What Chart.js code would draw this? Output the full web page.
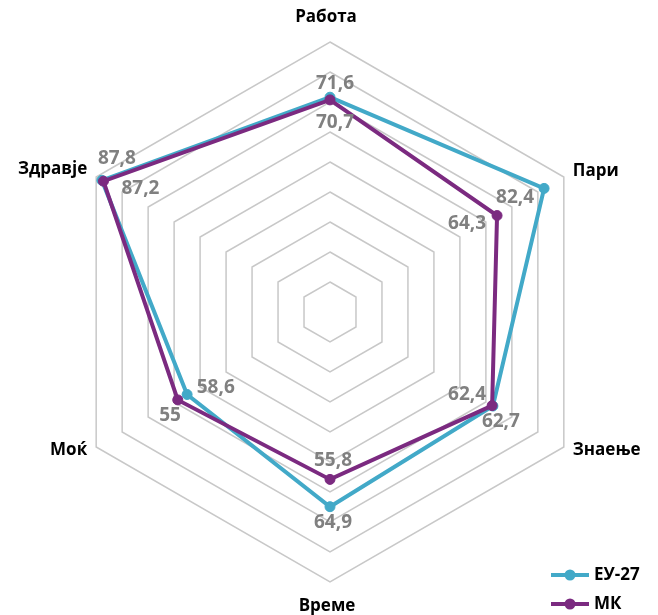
<!DOCTYPE html>
<html>
<head>
<meta charset="utf-8">
<script src="https://cdn.jsdelivr.net/npm/chart.js@4/dist/chart.umd.min.js"></script>
<style>
  html, body { margin: 0; padding: 0; background: #fff; }
  #wrap { width: 658px; height: 615px; }
</style>
</head>
<body>
<div id="wrap"><canvas id="c" width="658" height="615"></canvas></div>
<script>
const categories = ['Работа', 'Пари', 'Знаење', 'Време', 'Моќ', 'Здравје'];
const seriesNames = ['ЕУ-27', 'МК'];
const euValues = [71.6, 82.4, 62.7, 64.9, 55, 87.8];
const mkValues = [70.7, 64.3, 62.4, 55.8, 58.6, 87.2];
const scaleMin = 0;
const scaleMax = 90;
const scaleStep = 10;

const COLORS = ['#42a9c8', '#7b2a80'];
const FONT = '"Open Sans", "Noto Sans", sans-serif';

// label placement (pixel offsets relative to each point), kept apart from data
const valueLabelOffsets = [
  [[5, -14], [-29, 9], [8, 16], [3, 16], [-17, 21], [15, -22]],
  [[5, 23], [-30, 8], [-25, -11], [3, -19], [38, -12], [37, 7]]
];
const pointLabelPlace = [
  { dx: -4, dy: -25, align: 'center' },
  { dx: 9, dy: -6, align: 'left' },
  { dx: 9, dy: 3, align: 'left' },
  { dx: -3, dy: 24, align: 'center' },
  { dx: -9, dy: 3, align: 'right' },
  { dx: -9, dy: -8, align: 'right' }
];

const fmt = v => String(v).replace('.', ',');

const pointLabelsPlugin = {
  id: 'customPointLabels',
  afterDraw(chart) {
    const scale = chart.scales.r;
    const ctx = chart.ctx;
    ctx.save();
    ctx.font = 'bold 17px ' + FONT;
    ctx.fillStyle = '#000';
    ctx.textBaseline = 'middle';
    const outer = scale.getDistanceFromCenterForValue(scaleMax);
    categories.forEach((lab, i) => {
      const p = scale.getPointPosition(i, outer);
      const pl = pointLabelPlace[i];
      ctx.textAlign = pl.align;
      ctx.fillText(lab, p.x + pl.dx, p.y + pl.dy);
    });
    ctx.restore();
  }
};

const valueLabelsPlugin = {
  id: 'valueLabels',
  afterDatasetsDraw(chart) {
    const ctx = chart.ctx;
    ctx.save();
    ctx.font = 'bold 19px ' + FONT;
    ctx.fillStyle = '#808080';
    ctx.textAlign = 'center';
    ctx.textBaseline = 'middle';
    chart.data.datasets.forEach((ds, di) => {
      const meta = chart.getDatasetMeta(di);
      meta.data.forEach((pt, i) => {
        const off = valueLabelOffsets[di][i];
        ctx.fillText(fmt(ds.data[i]), pt.x + off[0], pt.y + off[1]);
      });
    });
    ctx.restore();
  }
};

const legendPlugin = {
  id: 'customLegend',
  afterDraw(chart) {
    const ctx = chart.ctx;
    ctx.save();
    const ys = [575, 604];
    chart.data.datasets.forEach((ds, di) => {
      const y = ys[di];
      ctx.strokeStyle = ds.borderColor;
      ctx.lineWidth = 4;
      ctx.beginPath();
      ctx.moveTo(551, y);
      ctx.lineTo(589, y);
      ctx.stroke();
      ctx.fillStyle = ds.borderColor;
      ctx.beginPath();
      ctx.arc(570, y, 5.5, 0, Math.PI * 2);
      ctx.fill();
      ctx.fillStyle = '#000';
      ctx.font = 'bold 17px ' + FONT;
      ctx.textAlign = 'left';
      ctx.textBaseline = 'middle';
      ctx.fillText(ds.label, 594, y);
    });
    ctx.restore();
  }
};

new Chart(document.getElementById('c'), {
  type: 'radar',
  data: {
    labels: categories,
    datasets: [
      {
        label: seriesNames[0],
        data: euValues,
        borderColor: COLORS[0],
        backgroundColor: COLORS[0],
        pointBackgroundColor: COLORS[0],
        pointBorderColor: COLORS[0],
        borderWidth: 4,
        pointRadius: 5,
        pointBorderWidth: 1,
        fill: false,
        order: 1
      },
      {
        label: seriesNames[1],
        data: mkValues,
        borderColor: COLORS[1],
        backgroundColor: COLORS[1],
        pointBackgroundColor: COLORS[1],
        pointBorderColor: COLORS[1],
        borderWidth: 4,
        pointRadius: 5,
        pointBorderWidth: 1,
        fill: false,
        order: 0
      }
    ]
  },
  options: {
    responsive: false,
    animation: false,
    layout: { padding: { top: 42, bottom: 33, left: 2, right: 0 } },
    elements: { line: { tension: 0 } },
    plugins: {
      legend: { display: false },
      tooltip: { enabled: false }
    },
    scales: {
      r: {
        min: scaleMin,
        max: scaleMax,
        ticks: { display: false, stepSize: scaleStep },
        grid: { color: '#c8c8c8', lineWidth: 1.5 },
        angleLines: { display: false },
        pointLabels: { display: false }
      }
    }
  },
  plugins: [pointLabelsPlugin, valueLabelsPlugin, legendPlugin]
});
</script>
</body>
</html>
